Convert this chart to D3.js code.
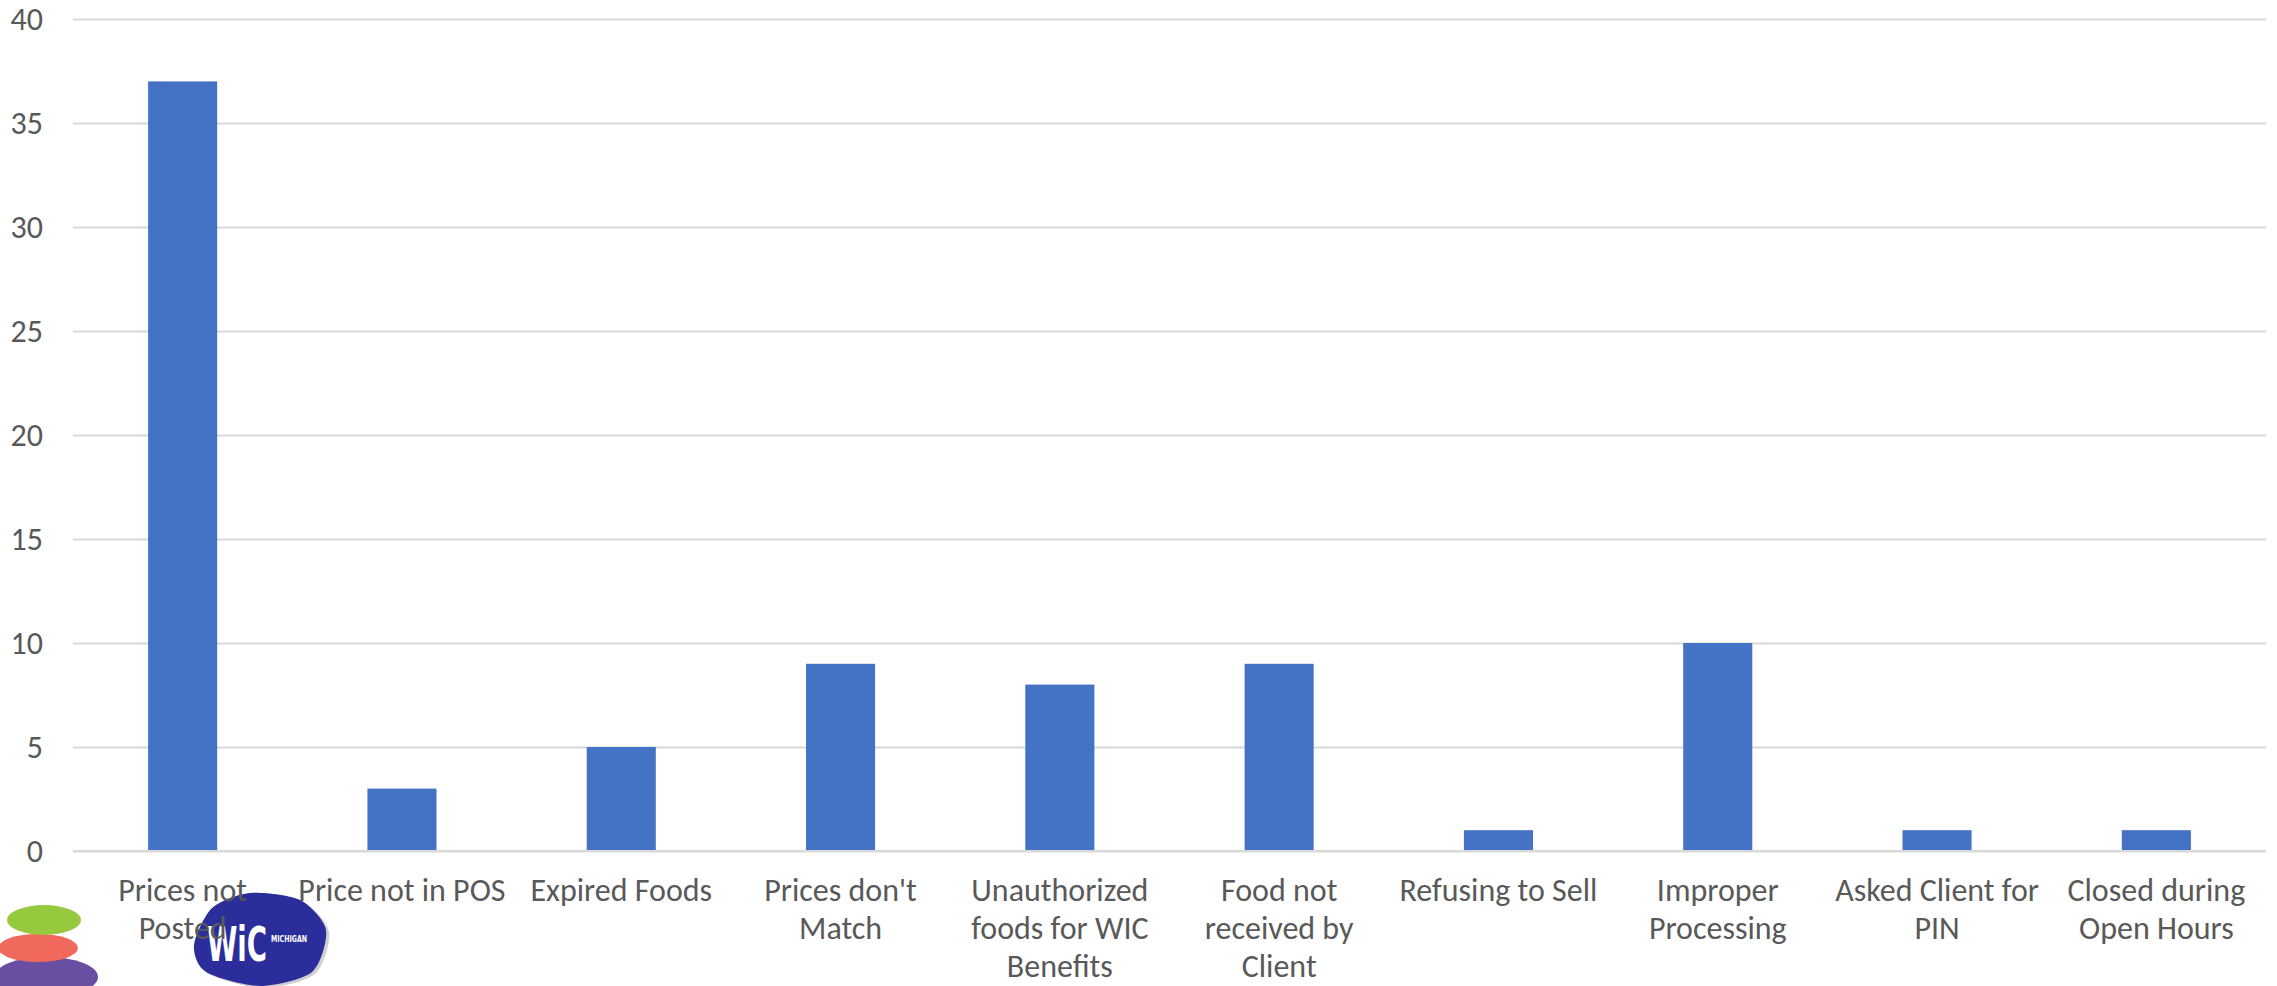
<!DOCTYPE html>
<html>
<head>
<meta charset="utf-8">
<script src="https://cdn.jsdelivr.net/npm/d3@7"></script>
<style>
  html, body { margin: 0; padding: 0; background: #fff; }
  svg { display: block; font-family: Carlito, Calibri, Lato, "Liberation Sans", sans-serif; }
</style>
</head>
<body>
<div id="chart"></div>
<script>
// Complaint categories (line breaks as they wrap under each bar)
const categories = [
  "Prices not\nPosted",
  "Price not in POS",
  "Expired Foods",
  "Prices don't\nMatch",
  "Unauthorized\nfoods for WIC\nBenefits",
  "Food not\nreceived by\nClient",
  "Refusing to Sell",
  "Improper\nProcessing",
  "Asked Client for\nPIN",
  "Closed during\nOpen Hours"
];
const counts = [37, 3, 5, 9, 8, 9, 1, 10, 1, 1];
const yTicks = [0, 5, 10, 15, 20, 25, 30, 35, 40];

const W = 2277, H = 986;
const margin = { top: 19, right: 11, bottom: 135, left: 73 };
const fontSize = 32;

const svg = d3.select("#chart").append("svg")
    .attr("width", W)
    .attr("height", H);

const x = d3.scaleBand()
    .domain(categories)
    .range([margin.left, W - margin.right]);

const y = d3.scaleLinear()
    .domain([0, 40])
    .range([H - margin.bottom, margin.top]);

// Grid + y labels
const yAxis = svg.append("g")
    .attr("transform", `translate(${margin.left},0)`)
    .call(d3.axisLeft(y)
        .tickValues(yTicks)
        .tickSize(-(W - margin.left - margin.right))
        .tickPadding(30))
    .attr("font-family", null)
    .attr("font-size", null);
yAxis.select(".domain").remove();
yAxis.selectAll(".tick line")
    .attr("stroke", "#d9d9d9")
    .attr("stroke-width", 2);
yAxis.selectAll(".tick text")
    .attr("fill", "#595959")
    .style("font-size", fontSize + "px");

// Logo (decorative, bottom-left)
const logo = svg.append("g");
logo.append("ellipse").attr("cx", 46).attr("cy", 977).attr("rx", 52).attr("ry", 20).attr("fill", "#6a4ea2");
logo.append("ellipse").attr("cx", 38).attr("cy", 948).attr("rx", 40).attr("ry", 14).attr("fill", "#f0695c");
logo.append("ellipse").attr("cx", 44).attr("cy", 920).attr("rx", 37).attr("ry", 15).attr("fill", "#96c93d");
const blob = [[250, 893], [300, 900], [326, 930], [312, 972], [260, 986], [206, 972], [194, 945], [212, 908]];
const blobLine = d3.line().curve(d3.curveCardinalClosed.tension(0.2));
logo.append("path")
    .attr("d", blobLine(blob.map(p => [p[0] + 3, p[1] + 2])))
    .attr("fill", "#cfcfd4");
logo.append("path")
    .attr("d", blobLine(blob))
    .attr("fill", "#2b2e9a");
logo.append("text")
    .attr("x", 207).attr("y", 961)
    .attr("fill", "#fff")
    .attr("textLength", 60)
    .attr("lengthAdjust", "spacingAndGlyphs")
    .style("font-family", "'DejaVu Sans Condensed', 'Liberation Sans Narrow', sans-serif")
    .style("font-weight", "bold")
    .style("font-size", "48px")
    .text("WiC");
logo.append("text")
    .attr("x", 271).attr("y", 942)
    .attr("fill", "#fff")
    .attr("textLength", 36)
    .attr("lengthAdjust", "spacingAndGlyphs")
    .style("font-family", "'DejaVu Sans Condensed', sans-serif")
    .style("font-weight", "bold")
    .style("font-size", "8px")
    .text("MICHIGAN");

// Bars
const barW = x.bandwidth() * 0.315;
svg.append("g")
    .selectAll("rect")
    .data(categories)
    .join("rect")
    .attr("x", (d) => x(d) + (x.bandwidth() - barW) / 2)
    .attr("y", (d, i) => y(counts[i]))
    .attr("width", barW)
    .attr("height", (d, i) => y(0) - y(counts[i]))
    .attr("fill", "#4472c4");

// Baseline
svg.append("line")
    .attr("x1", margin.left)
    .attr("x2", W - margin.right)
    .attr("y1", y(0))
    .attr("y2", y(0))
    .attr("stroke", "#d9d9d9")
    .attr("stroke-width", 2);

// Category labels
const labels = svg.append("g")
    .selectAll("text")
    .data(categories)
    .join("text")
    .attr("text-anchor", "middle")
    .attr("fill", "#595959")
    .style("font-size", fontSize + "px");

labels.each(function(d) {
    const cx = x(d) + x.bandwidth() / 2;
    d3.select(this).selectAll("tspan")
        .data(d.split("\n"))
        .join("tspan")
        .attr("x", cx)
        .attr("y", (t, j) => y(0) + 50 + j * 38)
        .text(t => t);
});
</script>
</body>
</html>
